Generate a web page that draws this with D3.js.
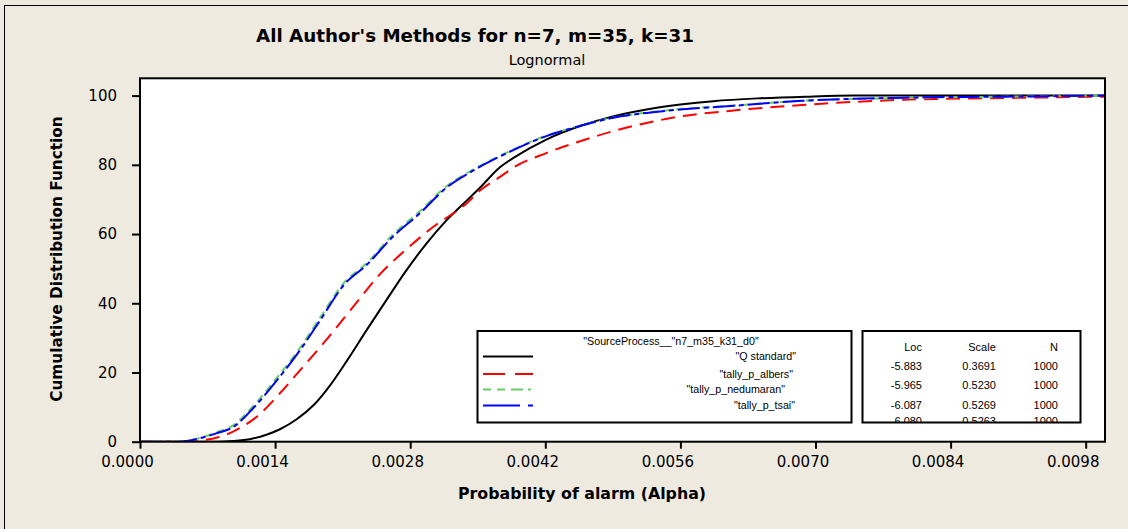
<!DOCTYPE html>
<html><head><meta charset="utf-8">
<script src="https://cdn.jsdelivr.net/npm/d3@7"></script>
<style>body{margin:0;background:#EEEAE0;} svg{display:block;}</style>
</head><body>
<svg id="c" width="1128" height="529"></svg>
<script>
// ---- data ----
const seriesNames = ["\"Q standard\"", "\"tally_p_albers\"", "\"tally_p_nedumaran\"", "\"tally_p_tsai\""];
const xStandard = [0, 0.0008, 0.00096, 0.00115, 0.00131, 0.00145, 0.00162, 0.0018, 0.00197, 0.00214, 0.00235, 0.00256, 0.00276, 0.00297, 0.00318, 0.00339, 0.00352, 0.00373, 0.00387, 0.00421, 0.00456, 0.0049, 0.00525, 0.0056, 0.00594, 0.0064, 0.0069, 0.0074, 0.008, 0.009, 0.01];
const yStandard = [0, 0, 0.2, 0.8, 2.0, 3.6, 6.4, 10.6, 16.3, 23.2, 32.3, 41.2, 49.5, 57.3, 64.1, 69.8, 73.3, 79.3, 82, 87.3, 91.2, 94, 96, 97.4, 98.4, 99.2, 99.7, 100, 100, 100, 100];
const xAlbers = [0, 0.00055, 0.00062, 0.0008, 0.00097, 0.00121, 0.00145, 0.00166, 0.00193, 0.00221, 0.00249, 0.00276, 0.00304, 0.00339, 0.00352, 0.00373, 0.00387, 0.00421, 0.00456, 0.0049, 0.00525, 0.0056, 0.00608, 0.00686, 0.00791, 0.00895, 0.01];
const yAlbers = [0, 0, 0.3, 1.2, 3.0, 7.2, 14, 20.7, 29.4, 39, 48.5, 55.6, 62.1, 69, 72.5, 76.5, 79.2, 83.4, 86.8, 89.7, 92.1, 94, 95.5, 97.3, 98.8, 99.3, 99.7];
const xNedumaran = [0, 0.0004, 0.00062, 0.00079, 0.00097, 0.00117, 0.00142, 0.00166, 0.00187, 0.00211, 0.00235, 0.00262, 0.0029, 0.00318, 0.00345, 0.00373, 0.00421, 0.00456, 0.0049, 0.00525, 0.0056, 0.00608, 0.00686, 0.00791, 0.00895, 0.01];
const yNedumaran = [0, 0, 1.1, 2.7, 4.8, 10.2, 18.5, 27.2, 36, 45.8, 51.6, 59.8, 66.6, 73.9, 78.6, 82.6, 88.4, 91.3, 93.6, 95.1, 96.1, 97, 98.5, 99.3, 99.7, 100];
const xTsai = [0, 0.0004, 0.00062, 0.00079, 0.00097, 0.00117, 0.00142, 0.00166, 0.00187, 0.00211, 0.00235, 0.00262, 0.0029, 0.00318, 0.00345, 0.00373, 0.00421, 0.00456, 0.0049, 0.00525, 0.0056, 0.00608, 0.00686, 0.00791, 0.00895, 0.01];
const yTsai = [0, 0, 1, 2.4, 4.3, 9.6, 17.8, 26.5, 35.2, 45.2, 51.1, 59.2, 66, 73.5, 78.3, 82.4, 88.3, 91.2, 93.6, 95, 96, 96.9, 98.5, 99.4, 99.7, 100];
const xTicks = [0, 0.0014, 0.0028, 0.0042, 0.0056, 0.0070, 0.0084, 0.0098];
const yTicks = [0, 20, 40, 60, 80, 100];
const statHeader = ["Loc", "Scale", "N"];
const statLoc = ["-5.883", "-5.965", "-6.087", "-6.080"];
const statScale = ["0.3691", "0.5230", "0.5269", "0.5263"];
const statN = ["1000", "1000", "1000", "1000"];
const legendTitle = "\"SourceProcess__\"n7_m35_k31_d0\"";
const titleText = "All Author's Methods for n=7, m=35, k=31";
const subtitleText = "Lognormal";
const xLabel = "Probability of alarm (Alpha)";
const yLabel = "Cumulative Distribution Function";

// ---- styles ----
const colors = ["#000000", "#FF0000", "#66CC66", "#0000FF"];
const dashPlot = [null, "14,8", "8,5", "22,4,5,4"];
const dashLegend = [null, "22,10", "8,6,8,6,12,5,3,5", "37,8,5,8"];
const xs = [xStandard, xAlbers, xNedumaran, xTsai];
const ys = [yStandard, yAlbers, yNedumaran, yTsai];

const svg = d3.select("#c");
const L = 140, R = 1105, T = 78.3, B = 441.7;
const x = d3.scaleLinear().domain([0, 0.01]).range([L, R]);
const y = d3.scaleLinear().domain([0, 105]).range([B, T]);

// outer frame
svg.append("rect").attr("x", 4.5).attr("y", 5.5).attr("width", 1200).attr("height", 600)
  .attr("fill", "#EEEAE0").attr("stroke", "#000").attr("stroke-width", 1);

// plot area
svg.append("rect").attr("x", L).attr("y", T).attr("width", R - L).attr("height", B - T).attr("fill", "#fff");
svg.append("clipPath").attr("id", "pc").append("rect").attr("x", L).attr("y", T - 2).attr("width", R - L).attr("height", B - T + 2);

const g = svg.append("g").attr("clip-path", "url(#pc)");
const line = d3.line().x(d => x(d[0])).y(d => y(d[1])).curve(d3.curveMonotoneX);
[0, 1, 2, 3].forEach(i => {
  const pts = xs[i].map((v, j) => [v, ys[i][j]]);
  g.append("path").attr("d", line(pts)).attr("fill", "none")
    .attr("stroke", colors[i]).attr("stroke-width", 2)
    .attr("stroke-dasharray", dashPlot[i]);
});

// frame
svg.append("rect").attr("x", L).attr("y", T).attr("width", R - L).attr("height", B - T)
  .attr("fill", "none").attr("stroke", "#000").attr("stroke-width", 2);

const tickFont = "DejaVu Sans, Verdana, sans-serif";
// axes
const xAxis = d3.axisBottom(x).tickValues(xTicks).tickFormat(d3.format(".4f")).tickSize(7).tickPadding(6);
const gx = svg.append("g").attr("transform", `translate(0,${B})`).call(xAxis);
gx.select(".domain").remove();
gx.selectAll("line").attr("stroke-width", 2);
gx.selectAll("text").attr("font-family", tickFont).attr("font-size", 15).attr("fill", "#000")
  .attr("dx", -13).attr("dy", "0.85em");

const yAxis = d3.axisLeft(y).tickValues(yTicks).tickSize(8).tickPadding(15);
const gy = svg.append("g").attr("transform", `translate(${L},0)`).call(yAxis);
gy.select(".domain").remove();
gy.selectAll("line").attr("stroke-width", 2);
gy.selectAll("text").attr("font-family", tickFont).attr("font-size", 15).attr("fill", "#000");

// titles
svg.append("text").attr("x", 475).attr("y", 41.5).attr("text-anchor", "middle")
  .attr("font-family", tickFont).attr("font-weight", "bold").attr("font-size", 18.3).text(titleText);
svg.append("text").attr("x", 547).attr("y", 65).attr("text-anchor", "middle")
  .attr("font-family", tickFont).attr("font-size", 14.5).text(subtitleText);
svg.append("text").attr("x", 582).attr("y", 499).attr("text-anchor", "middle")
  .attr("font-family", tickFont).attr("font-weight", "bold").attr("font-size", 15.8).text(xLabel);
svg.append("text").attr("transform", "translate(62,259) rotate(-90)").attr("text-anchor", "middle")
  .attr("font-family", tickFont).attr("font-weight", "bold").attr("font-size", 15.3).text(yLabel);

// legend
const smallFont = "Liberation Sans, Arial, sans-serif";
const lg = svg.append("g");
lg.append("rect").attr("x", 477.5).attr("y", 331).attr("width", 374).attr("height", 91.5)
  .attr("fill", "#fff").attr("stroke", "#000").attr("stroke-width", 2);
lg.append("text").attr("x", 671).attr("y", 344.5).attr("text-anchor", "middle")
  .attr("font-family", smallFont).attr("font-size", 10.7).text(legendTitle);
const rowY = [356.5, 374, 389.5, 405.5];
const labelRight = [796, 793, 785, 795];
[0, 1, 2, 3].forEach(i => {
  lg.append("line").attr("x1", 483).attr("x2", 533).attr("y1", rowY[i]).attr("y2", rowY[i])
    .attr("stroke", colors[i]).attr("stroke-width", 2).attr("stroke-dasharray", dashLegend[i]);
  lg.append("text").attr("x", labelRight[i]).attr("y", rowY[i] + 3.5).attr("text-anchor", "end")
    .attr("font-family", smallFont).attr("font-size", 10.7).text(seriesNames[i]);
});

// stats table
const sg = svg.append("g");
sg.append("rect").attr("x", 862.5).attr("y", 331).attr("width", 218).attr("height", 91.5).attr("fill", "#fff");
sg.append("clipPath").attr("id", "sc").append("rect").attr("x", 862.5).attr("y", 331).attr("width", 218).attr("height", 91.5);
const st = sg.append("g").attr("clip-path", "url(#sc)");
const colRight = [922, 996, 1058];
const statRows = [346.5, 365.5, 385, 404.5, 421];
statHeader.forEach((h, c) => {
  st.append("text").attr("x", c === 1 ? 982 : colRight[c]).attr("y", statRows[0] + 4)
    .attr("text-anchor", c === 1 ? "middle" : "end")
    .attr("font-family", smallFont).attr("font-size", 11).text(h);
});
[statLoc, statScale, statN].forEach((col, c) => {
  col.forEach((v, r) => {
    st.append("text").attr("x", colRight[c]).attr("y", statRows[r + 1] + 4).attr("text-anchor", "end")
      .attr("font-family", smallFont).attr("font-size", 11).text(v);
  });
});
sg.append("rect").attr("x", 862.5).attr("y", 331).attr("width", 218).attr("height", 91.5)
  .attr("fill", "none").attr("stroke", "#000").attr("stroke-width", 2);
</script>
</body></html>
